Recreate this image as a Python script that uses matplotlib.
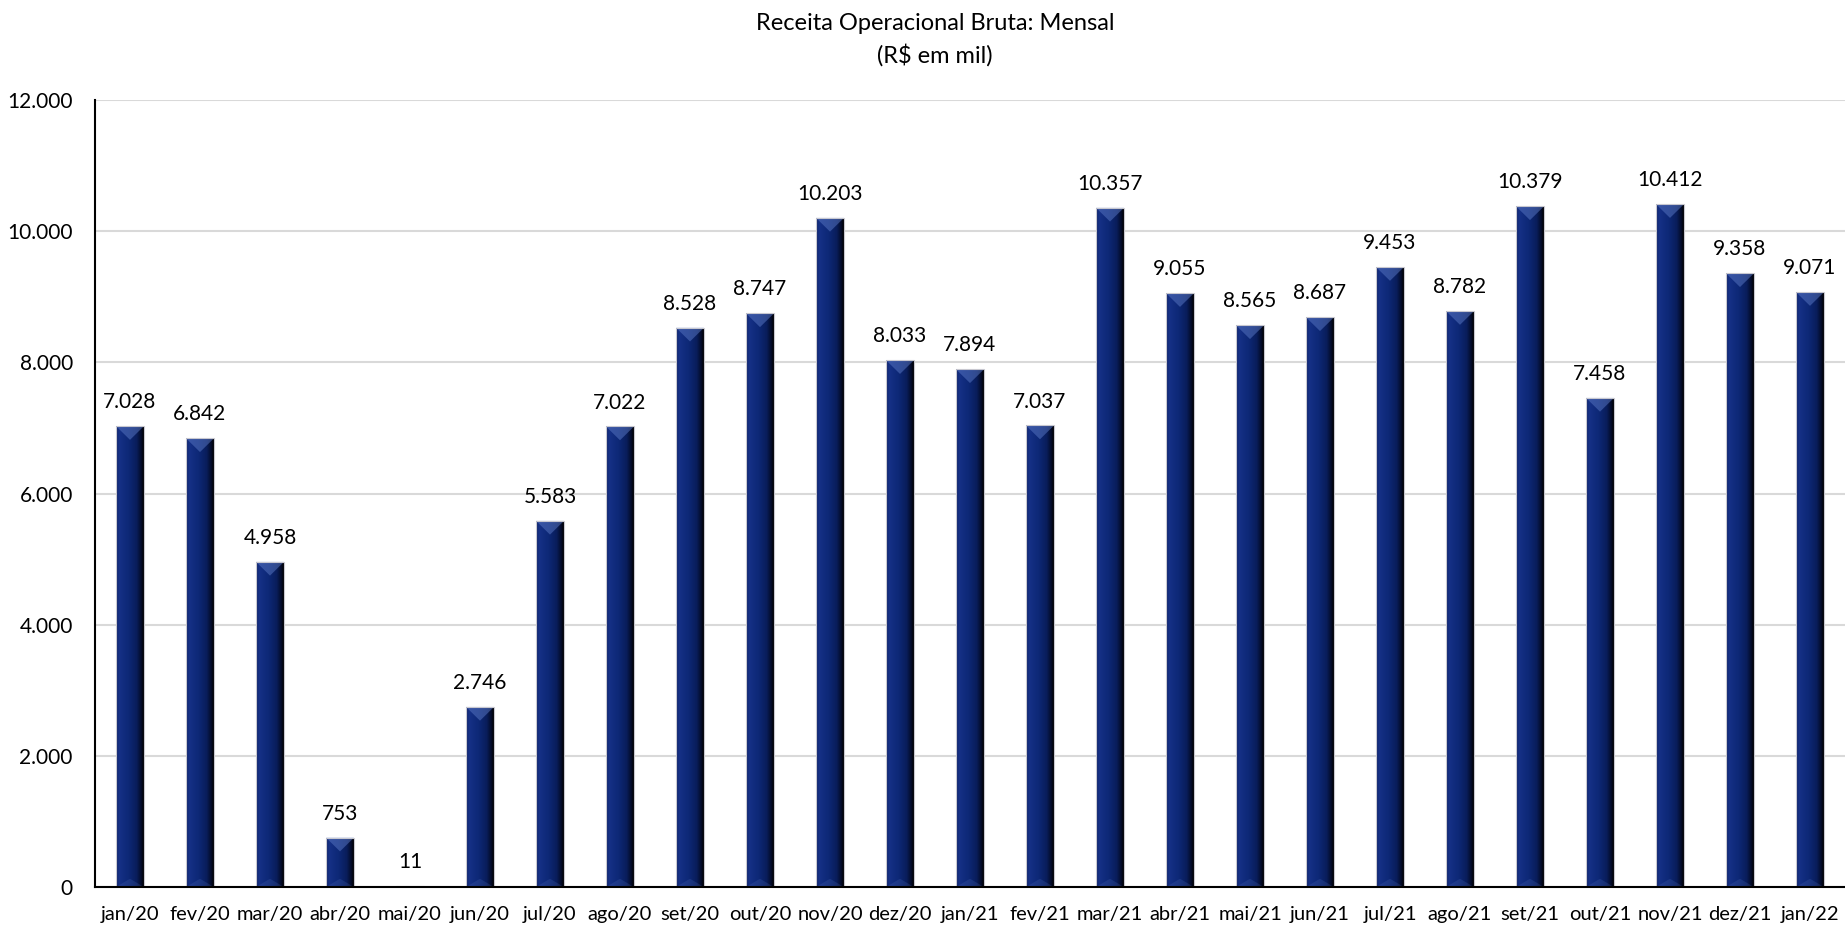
import numpy as np
import matplotlib.pyplot as plt
from matplotlib.colors import LinearSegmentedColormap
from matplotlib.patches import Polygon

#----------------------------------------------------- DATA
meses = ['jan/20', 'fev/20', 'mar/20', 'abr/20', 'mai/20', 'jun/20', 'jul/20', 'ago/20',
         'set/20', 'out/20', 'nov/20', 'dez/20', 'jan/21', 'fev/21', 'mar/21', 'abr/21',
         'mai/21', 'jun/21', 'jul/21', 'ago/21', 'set/21', 'out/21', 'nov/21', 'dez/21', 'jan/22']
receita = [7028, 6842, 4958, 753, 11, 2746, 5583, 7022, 8528, 8747, 10203, 8033, 7894,
           7037, 10357, 9055, 8565, 8687, 9453, 8782, 10379, 7458, 10412, 9358, 9071]
yticks = [0, 2000, 4000, 6000, 8000, 10000, 12000]

def fmt(v): #brazilian thousands separator
    return '{:,}'.format(v).replace(',', '.')

plt.rcParams['font.family'] = ['Lato', 'DejaVu Sans']

fig = plt.figure(figsize=(18.45, 9.25), dpi=100)
ax = fig.add_axes([95/1845, 1-887/925, 1-95/1845, (887-100)/925])

x = np.arange(len(meses))
bars = ax.bar(x, receita, width=0.4, color='#0e2a7a', zorder=2)

# horizontal shading like the excel bevel
cmap = LinearSegmentedColormap.from_list('navy', [(0, '#0b1f60'), (0.1, '#163187'), (0.45, '#0d2876'),
                                                  (0.75, '#091d5a'), (0.92, '#030a26'), (1.0, '#000000')])
grad = np.linspace(0, 1, 64).reshape(1, -1)
tri_h = 210  # data units, roughly half a bar width on screen
for b in bars:
    x0, w, h = b.get_x(), b.get_width(), b.get_height()
    im = ax.imshow(grad, cmap=cmap, extent=[x0, x0+w, 0, h], aspect='auto', zorder=3)
    im.set_clip_path(b)
    if h > 2*tri_h:
        top = Polygon([[x0, h], [x0+w, h], [x0+w/2, h-tri_h]], closed=True,
                      facecolor='#5a78c4', alpha=0.5, edgecolor='none', zorder=4)
        ax.add_patch(top)
        bot = Polygon([[x0, 0], [x0+w, 0], [x0+w/2, tri_h*0.6]], closed=True,
                      facecolor='#5a78c4', alpha=0.2, edgecolor='none', zorder=4)
        ax.add_patch(bot)
    ax.annotate(fmt(b.get_height()), (x0+w/2, h), xytext=(0, 10), textcoords='offset points',
                ha='center', va='bottom', fontsize=15, color='black')
# thin light outline
ax.bar(x, receita, width=0.4, fill=False, edgecolor='#c8c8d0', linewidth=0.8, zorder=5)

ax.set_xlim(-0.5, len(meses)-0.5)
ax.set_ylim(0, 12000)
ax.set_yticks(yticks)
ax.set_yticklabels([fmt(v) for v in yticks], fontsize=15)
ax.set_xticks(x)
ax.set_xticklabels(meses, fontsize=14.5)
ax.tick_params(axis='both', length=0)
ax.tick_params(axis='y', pad=16)
ax.tick_params(axis='x', pad=14)
ax.grid(axis='y', color='#d9d9d9', linewidth=1.5, zorder=0)
ax.set_axisbelow(True)
for s in ['top', 'right']:
    ax.spines[s].set_visible(False)
ax.spines['left'].set_linewidth(1.5)
ax.spines['bottom'].set_linewidth(1.5)
ax.spines['bottom'].set_zorder(6)

fig.text(935/1845, 1-24/925, 'Receita Operacional Bruta: Mensal', ha='center', va='center', fontsize=17)
fig.text(935/1845, 1-55/925, '(R$ em mil)', ha='center', va='center', fontsize=17)

fig.savefig('out.png', dpi=100)
